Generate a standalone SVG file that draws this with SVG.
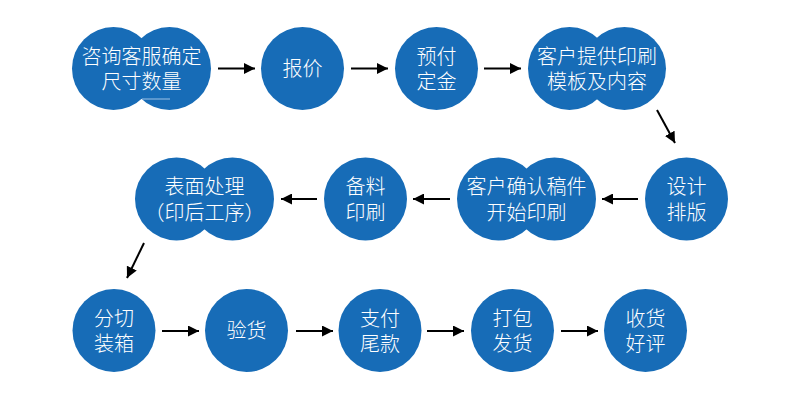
<svg xmlns="http://www.w3.org/2000/svg" width="800" height="400" viewBox="0 0 800 400">
<style>
.c{fill:#176cb7}
.t{fill:#ffffff;font-family:"Noto Sans CJK SC","Noto Sans CJK TC",sans-serif;font-size:20px;font-weight:300;text-anchor:middle}
.a{stroke:#000;stroke-width:2;fill:none}
</style>
<defs>
<marker id="ah" viewBox="0 0 10 10" refX="10" refY="5" markerWidth="5.5" markerHeight="5.5" markerUnits="strokeWidth" orient="auto">
<path d="M0,0 L10,5 L0,10 Z" fill="#000"/>
</marker>
</defs>
<rect width="800" height="400" fill="#fff"/>
<g id="connectors">
<line class="a" x1="218" y1="68.5" x2="255" y2="68.5" marker-end="url(#ah)"/>
<line class="a" x1="351" y1="68.5" x2="388" y2="68.5" marker-end="url(#ah)"/>
<line class="a" x1="484" y1="68.5" x2="521" y2="68.5" marker-end="url(#ah)"/>
<line class="a" x1="657" y1="110" x2="675" y2="143" marker-end="url(#ah)"/>
<line class="a" x1="638" y1="199" x2="602" y2="199" marker-end="url(#ah)"/>
<line class="a" x1="450" y1="199" x2="413" y2="199" marker-end="url(#ah)"/>
<line class="a" x1="317" y1="199" x2="281" y2="199" marker-end="url(#ah)"/>
<line class="a" x1="144" y1="243" x2="127" y2="278" marker-end="url(#ah)"/>
<line class="a" x1="162" y1="331" x2="199" y2="331" marker-end="url(#ah)"/>
<line class="a" x1="296" y1="331" x2="333" y2="331" marker-end="url(#ah)"/>
<line class="a" x1="427" y1="331" x2="464" y2="331" marker-end="url(#ah)"/>
<line class="a" x1="561" y1="331" x2="598" y2="331" marker-end="url(#ah)"/>
</g>
<g id="n1">
<circle class="c" cx="113.5" cy="68.5" r="41.5"/>
<circle class="c" cx="169.5" cy="68.5" r="41.5"/>
<line x1="142" y1="99" x2="170" y2="99" stroke="#9fc2e6" stroke-width="1"/>
<text class="t" x="141.5" y="63.5">咨询客服确定</text>
<text class="t" x="141.5" y="89">尺寸数量</text>
</g>
<g id="n2">
<circle class="c" cx="302.5" cy="68.5" r="41.5"/>
<text class="t" x="302.5" y="76">报价</text>
</g>
<g id="n3">
<circle class="c" cx="436.5" cy="68.5" r="41.5"/>
<text class="t" x="436.5" y="63.5">预付</text>
<text class="t" x="436.5" y="89">定金</text>
</g>
<g id="n4">
<circle class="c" cx="569.5" cy="68.5" r="41.5"/>
<circle class="c" cx="624.5" cy="68.5" r="41.5"/>
<text class="t" x="597" y="63.5">客户提供印刷</text>
<text class="t" x="597" y="89">模板及内容</text>
</g>
<g id="n5">
<circle class="c" cx="686.5" cy="199" r="41.5"/>
<text class="t" x="686.5" y="194">设计</text>
<text class="t" x="686.5" y="219.5">排版</text>
</g>
<g id="n6">
<circle class="c" cx="498.5" cy="199" r="41.5"/>
<circle class="c" cx="554.5" cy="199" r="41.5"/>
<text class="t" x="526.5" y="194">客户确认稿件</text>
<text class="t" x="526.5" y="219.5">开始印刷</text>
</g>
<g id="n7">
<circle class="c" cx="365.5" cy="199" r="41.5"/>
<text class="t" x="365.5" y="194">备料</text>
<text class="t" x="365.5" y="219.5">印刷</text>
</g>
<g id="n8">
<circle class="c" cx="176.5" cy="199" r="41.5"/>
<circle class="c" cx="232.5" cy="199" r="41.5"/>
<text class="t" x="204.5" y="194">表面处理</text>
<text class="t" x="204.5" y="219.5">（印后工序）</text>
</g>
<g id="n9">
<circle class="c" cx="114" cy="330.5" r="41.5"/>
<text class="t" x="114" y="325.5">分切</text>
<text class="t" x="114" y="351">装箱</text>
</g>
<g id="n10">
<circle class="c" cx="246.5" cy="330.5" r="41.5"/>
<text class="t" x="246.5" y="338">验货</text>
</g>
<g id="n11">
<circle class="c" cx="380" cy="330.5" r="41.5"/>
<text class="t" x="380" y="325.5">支付</text>
<text class="t" x="380" y="351">尾款</text>
</g>
<g id="n12">
<circle class="c" cx="512.5" cy="330.5" r="41.5"/>
<text class="t" x="512.5" y="325.5">打包</text>
<text class="t" x="512.5" y="351">发货</text>
</g>
<g id="n13">
<circle class="c" cx="645.5" cy="330.5" r="41.5"/>
<text class="t" x="645.5" y="325.5">收货</text>
<text class="t" x="645.5" y="351">好评</text>
</g>
</svg>
